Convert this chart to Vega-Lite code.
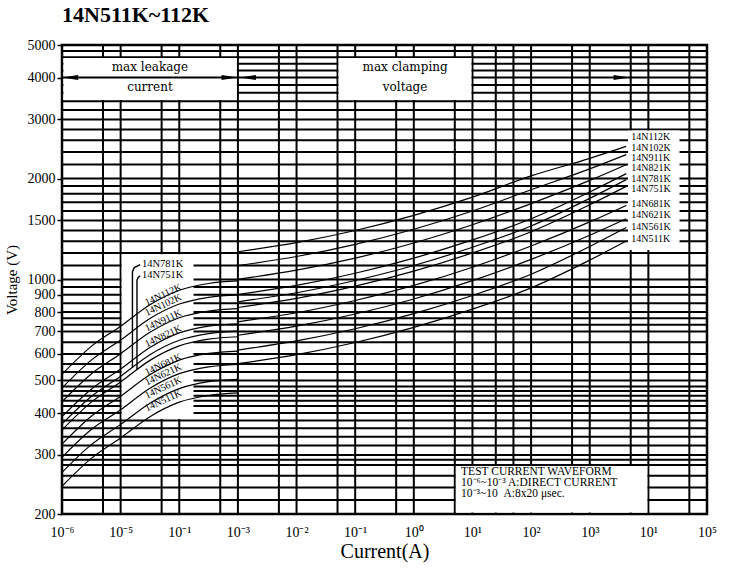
{
  "$schema": "https://vega.github.io/schema/vega-lite/v6.json",
  "description": "14N511K~112K varistor V-I characteristic curves",
  "autosize": {"type": "none"},
  "width": 645,
  "height": 469,
  "padding": {"left": 62, "top": 45, "right": 25, "bottom": 54},
  "background": "white",
  "title": {
    "text": "14N511K~112K",
    "anchor": "start",
    "frame": "group",
    "font": "Liberation Serif",
    "fontSize": 22,
    "fontWeight": "bold",
    "color": "black",
    "offset": 11
  },
  "datasets": {
    "curves": [
      {"id": "112K-L", "I": 1e-6, "V": 522}, {"id": "112K-L", "I": 3.16e-6, "V": 632}, {"id": "112K-L", "I": 1e-5, "V": 726}, {"id": "112K-L", "I": 3.16e-5, "V": 841}, {"id": "112K-L", "I": 1e-4, "V": 929}, {"id": "112K-L", "I": 3.16e-4, "V": 973}, {"id": "112K-L", "I": 1e-3, "V": 990},
      {"id": "102K-L", "I": 1e-6, "V": 475}, {"id": "102K-L", "I": 3.16e-6, "V": 575}, {"id": "102K-L", "I": 1e-5, "V": 660}, {"id": "102K-L", "I": 3.16e-5, "V": 765}, {"id": "102K-L", "I": 1e-4, "V": 845}, {"id": "102K-L", "I": 3.16e-4, "V": 885}, {"id": "102K-L", "I": 1e-3, "V": 900},
      {"id": "911K-L", "I": 1e-6, "V": 432}, {"id": "911K-L", "I": 3.16e-6, "V": 523}, {"id": "911K-L", "I": 1e-5, "V": 601}, {"id": "911K-L", "I": 3.16e-5, "V": 696}, {"id": "911K-L", "I": 1e-4, "V": 769}, {"id": "911K-L", "I": 3.16e-4, "V": 805}, {"id": "911K-L", "I": 1e-3, "V": 819},
      {"id": "821K-L", "I": 1e-6, "V": 390}, {"id": "821K-L", "I": 3.16e-6, "V": 471}, {"id": "821K-L", "I": 1e-5, "V": 541}, {"id": "821K-L", "I": 3.16e-5, "V": 627}, {"id": "821K-L", "I": 1e-4, "V": 693}, {"id": "821K-L", "I": 3.16e-4, "V": 726}, {"id": "821K-L", "I": 1e-3, "V": 738},
      {"id": "781K-L", "I": 1e-6, "V": 371}, {"id": "781K-L", "I": 3.16e-6, "V": 448}, {"id": "781K-L", "I": 1e-5, "V": 515}, {"id": "781K-L", "I": 3.16e-5, "V": 597}, {"id": "781K-L", "I": 1e-4, "V": 659}, {"id": "781K-L", "I": 3.16e-4, "V": 690}, {"id": "781K-L", "I": 1e-3, "V": 702},
      {"id": "751K-L", "I": 1e-6, "V": 356}, {"id": "751K-L", "I": 3.16e-6, "V": 431}, {"id": "751K-L", "I": 1e-5, "V": 495}, {"id": "751K-L", "I": 3.16e-5, "V": 574}, {"id": "751K-L", "I": 1e-4, "V": 634}, {"id": "751K-L", "I": 3.16e-4, "V": 664}, {"id": "751K-L", "I": 1e-3, "V": 675},
      {"id": "681K-L", "I": 1e-6, "V": 323}, {"id": "681K-L", "I": 3.16e-6, "V": 391}, {"id": "681K-L", "I": 1e-5, "V": 449}, {"id": "681K-L", "I": 3.16e-5, "V": 520}, {"id": "681K-L", "I": 1e-4, "V": 575}, {"id": "681K-L", "I": 3.16e-4, "V": 602}, {"id": "681K-L", "I": 1e-3, "V": 612},
      {"id": "621K-L", "I": 1e-6, "V": 295}, {"id": "621K-L", "I": 3.16e-6, "V": 357}, {"id": "621K-L", "I": 1e-5, "V": 409}, {"id": "621K-L", "I": 3.16e-5, "V": 474}, {"id": "621K-L", "I": 1e-4, "V": 524}, {"id": "621K-L", "I": 3.16e-4, "V": 549}, {"id": "621K-L", "I": 1e-3, "V": 558},
      {"id": "561K-L", "I": 1e-6, "V": 266}, {"id": "561K-L", "I": 3.16e-6, "V": 322}, {"id": "561K-L", "I": 1e-5, "V": 370}, {"id": "561K-L", "I": 3.16e-5, "V": 428}, {"id": "561K-L", "I": 1e-4, "V": 473}, {"id": "561K-L", "I": 3.16e-4, "V": 496}, {"id": "561K-L", "I": 1e-3, "V": 504},
      {"id": "511K-L", "I": 1e-6, "V": 242}, {"id": "511K-L", "I": 3.16e-6, "V": 293}, {"id": "511K-L", "I": 1e-5, "V": 337}, {"id": "511K-L", "I": 3.16e-5, "V": 390}, {"id": "511K-L", "I": 1e-4, "V": 431}, {"id": "511K-L", "I": 3.16e-4, "V": 451}, {"id": "511K-L", "I": 1e-3, "V": 459},
      {"id": "112K-C", "I": 1e-3, "V": 1210}, {"id": "112K-C", "I": 1e-2, "V": 1288}, {"id": "112K-C", "I": 0.1, "V": 1400}, {"id": "112K-C", "I": 1, "V": 1553}, {"id": "112K-C", "I": 10, "V": 1760}, {"id": "112K-C", "I": 100, "V": 2036}, {"id": "112K-C", "I": 1000, "V": 2297}, {"id": "112K-C", "I": 4200, "V": 2494},
      {"id": "102K-C", "I": 1e-3, "V": 1100}, {"id": "102K-C", "I": 1e-2, "V": 1171}, {"id": "102K-C", "I": 0.1, "V": 1273}, {"id": "102K-C", "I": 1, "V": 1412}, {"id": "102K-C", "I": 10, "V": 1600}, {"id": "102K-C", "I": 100, "V": 1851}, {"id": "102K-C", "I": 1000, "V": 2136}, {"id": "102K-C", "I": 4200, "V": 2356},
      {"id": "911K-C", "I": 1e-3, "V": 1001}, {"id": "911K-C", "I": 1e-2, "V": 1066}, {"id": "911K-C", "I": 0.1, "V": 1158}, {"id": "911K-C", "I": 1, "V": 1285}, {"id": "911K-C", "I": 10, "V": 1456}, {"id": "911K-C", "I": 100, "V": 1684}, {"id": "911K-C", "I": 1000, "V": 1974}, {"id": "911K-C", "I": 4200, "V": 2199},
      {"id": "821K-C", "I": 1e-3, "V": 902}, {"id": "821K-C", "I": 1e-2, "V": 960}, {"id": "821K-C", "I": 0.1, "V": 1044}, {"id": "821K-C", "I": 1, "V": 1158}, {"id": "821K-C", "I": 10, "V": 1312}, {"id": "821K-C", "I": 100, "V": 1518}, {"id": "821K-C", "I": 1000, "V": 1824}, {"id": "821K-C", "I": 4200, "V": 2068},
      {"id": "781K-C", "I": 1e-3, "V": 858}, {"id": "781K-C", "I": 1e-2, "V": 913}, {"id": "781K-C", "I": 0.1, "V": 993}, {"id": "781K-C", "I": 1, "V": 1101}, {"id": "781K-C", "I": 10, "V": 1248}, {"id": "781K-C", "I": 100, "V": 1444}, {"id": "781K-C", "I": 1000, "V": 1745}, {"id": "781K-C", "I": 4200, "V": 1985},
      {"id": "751K-C", "I": 1e-3, "V": 825}, {"id": "751K-C", "I": 1e-2, "V": 878}, {"id": "751K-C", "I": 0.1, "V": 955}, {"id": "751K-C", "I": 1, "V": 1059}, {"id": "751K-C", "I": 10, "V": 1200}, {"id": "751K-C", "I": 100, "V": 1388}, {"id": "751K-C", "I": 1000, "V": 1670}, {"id": "751K-C", "I": 4200, "V": 1895},
      {"id": "681K-C", "I": 1e-3, "V": 748}, {"id": "681K-C", "I": 1e-2, "V": 796}, {"id": "681K-C", "I": 0.1, "V": 866}, {"id": "681K-C", "I": 1, "V": 960}, {"id": "681K-C", "I": 10, "V": 1088}, {"id": "681K-C", "I": 100, "V": 1259}, {"id": "681K-C", "I": 1000, "V": 1485}, {"id": "681K-C", "I": 4200, "V": 1663},
      {"id": "621K-C", "I": 1e-3, "V": 682}, {"id": "621K-C", "I": 1e-2, "V": 726}, {"id": "621K-C", "I": 0.1, "V": 789}, {"id": "621K-C", "I": 1, "V": 875}, {"id": "621K-C", "I": 10, "V": 992}, {"id": "621K-C", "I": 100, "V": 1148}, {"id": "621K-C", "I": 1000, "V": 1355}, {"id": "621K-C", "I": 4200, "V": 1518},
      {"id": "561K-C", "I": 1e-3, "V": 616}, {"id": "561K-C", "I": 1e-2, "V": 656}, {"id": "561K-C", "I": 0.1, "V": 713}, {"id": "561K-C", "I": 1, "V": 791}, {"id": "561K-C", "I": 10, "V": 896}, {"id": "561K-C", "I": 100, "V": 1037}, {"id": "561K-C", "I": 1000, "V": 1254}, {"id": "561K-C", "I": 4200, "V": 1428},
      {"id": "511K-C", "I": 1e-3, "V": 561}, {"id": "511K-C", "I": 1e-2, "V": 597}, {"id": "511K-C", "I": 0.1, "V": 649}, {"id": "511K-C", "I": 1, "V": 720}, {"id": "511K-C", "I": 10, "V": 816}, {"id": "511K-C", "I": 100, "V": 944}, {"id": "511K-C", "I": 1000, "V": 1142}, {"id": "511K-C", "I": 4200, "V": 1302}
    ],
    "leaders": [
      {"id": "781K", "I": 2.16e-5, "V": 1108}, {"id": "781K", "I": 1.71e-5, "V": 1085}, {"id": "781K", "I": 1.59e-5, "V": 1055}, {"id": "781K", "I": 1.59e-5, "V": 548},
      {"id": "751K", "I": 2.16e-5, "V": 1026}, {"id": "751K", "I": 1.99e-5, "V": 1014}, {"id": "751K", "I": 1.9e-5, "V": 995}, {"id": "751K", "I": 1.9e-5, "V": 540}
    ],
    "vgrid": [
      {"I": 5e-6}, {"I": 1e-5}, {"I": 5e-5}, {"I": 1e-4}, {"I": 5e-4}, {"I": 1e-3}, {"I": 5e-3}, {"I": 1e-2},
      {"I": 5e-2}, {"I": 0.1}, {"I": 0.5}, {"I": 1}, {"I": 5}, {"I": 10}, {"I": 25}, {"I": 50}, {"I": 100},
      {"I": 500}, {"I": 1000}, {"I": 5000}, {"I": 10000}, {"I": 50000}
    ],
    "hgrid": [
      {"V": 4800}, {"V": 4600}, {"V": 4400}, {"V": 4200}, {"V": 4000}, {"V": 3800}, {"V": 3600}, {"V": 3400},
      {"V": 3200}, {"V": 3000}, {"V": 2800}, {"V": 2600}, {"V": 2400}, {"V": 2200}, {"V": 2000}, {"V": 1900},
      {"V": 1800}, {"V": 1700}, {"V": 1600}, {"V": 1500}, {"V": 1400}, {"V": 1300}, {"V": 1200}, {"V": 1100},
      {"V": 1000}, {"V": 950}, {"V": 900}, {"V": 850}, {"V": 800}, {"V": 767}, {"V": 733}, {"V": 700},
      {"V": 650}, {"V": 600}, {"V": 560}, {"V": 530}, {"V": 500}, {"V": 480}, {"V": 465}, {"V": 450},
      {"V": 435}, {"V": 420}, {"V": 400}, {"V": 380}, {"V": 360}, {"V": 340}, {"V": 320}, {"V": 300},
      {"V": 290}, {"V": 280}, {"V": 260}, {"V": 240}, {"V": 220}
    ],
    "masks": [
      {"I": 1.06e-6, "I2": 9.6e-4, "V": 3425, "V2": 4570},
      {"I": 5.2e-2, "I2": 9.6, "V": 3425, "V2": 4570},
      {"I": 4500, "I2": 34000, "V": 1225, "V2": 2780},
      {"I": 1.04e-5, "I2": 1.75e-4, "V": 384, "V2": 1190},
      {"I": 5.2, "I2": 9600, "V": 202, "V2": 278}
    ],
    "shaft": [{"I": 1e-6, "I2": 1e-3, "V": 4000}],
    "arrows": [
      {"I": 1.38e-6, "V": 4000, "dir": "left"},
      {"I": 7.2e-4, "V": 4000, "dir": "right"},
      {"I": 1.48e-3, "V": 4000, "dir": "left"},
      {"I": 3500, "V": 4000, "dir": "right"}
    ],
    "endLabels": [
      {"I": 5100, "V": 2660, "text": "14N112K"},
      {"I": 5100, "V": 2470, "text": "14N102K"},
      {"I": 5100, "V": 2300, "text": "14N911K"},
      {"I": 5100, "V": 2145, "text": "14N821K"},
      {"I": 5100, "V": 2000, "text": "14N781K"},
      {"I": 5100, "V": 1855, "text": "14N751K"},
      {"I": 5100, "V": 1683, "text": "14N681K"},
      {"I": 5100, "V": 1560, "text": "14N621K"},
      {"I": 5100, "V": 1433, "text": "14N561K"},
      {"I": 5100, "V": 1324, "text": "14N511K"}
    ],
    "slantLabels": [
      {"I": 5.33e-5, "V": 900, "text": "14N112K"},
      {"I": 5.33e-5, "V": 840, "text": "14N102K"},
      {"I": 5.33e-5, "V": 755, "text": "14N911K"},
      {"I": 5.33e-5, "V": 678, "text": "14N821K"},
      {"I": 5.33e-5, "V": 558, "text": "14N681K"},
      {"I": 5.33e-5, "V": 521, "text": "14N621K"},
      {"I": 5.33e-5, "V": 476, "text": "14N561K"},
      {"I": 5.33e-5, "V": 436, "text": "14N511K"}
    ],
    "flatLabels": [
      {"I": 2.31e-5, "V": 1115, "text": "14N781K"},
      {"I": 2.31e-5, "V": 1030, "text": "14N751K"}
    ],
    "boxText": [
      {"I": 3.16e-5, "V": 4290, "text": "max leakage"},
      {"I": 3.16e-5, "V": 3760, "text": "current"},
      {"I": 0.71, "V": 4290, "text": "max clamping"},
      {"I": 0.71, "V": 3760, "text": "voltage"}
    ],
    "testText": [
      {"I": 6.4, "V": 267, "text": "TEST CURRENT WAVEFORM"},
      {"I": 6.4, "V": 247, "text": "10⁻⁶~10⁻³ A:DIRECT CURRENT"},
      {"I": 6.4, "V": 229, "text": "10⁻³~10\u00a0\u00a0A:8x20 μsec."}
    ]
  },
  "layer": [
    {
      "data": {"name": "vgrid"},
      "mark": {"type": "rule", "color": "black", "strokeWidth": 2},
      "encoding": {
        "x": {
          "field": "I",
          "type": "quantitative",
          "scale": {"type": "log", "domain": [1e-6, 100000], "nice": false},
          "axis": {
            "title": "Current(A)",
            "values": [1e-6, 1e-5, 1e-4, 1e-3, 1e-2, 0.1, 1, 10, 100, 1000, 10000, 100000],
            "labelExpr": "datum.value < 3e-6 ? '10⁻⁶' : datum.value < 3e-5 ? '10⁻⁵' : datum.value < 3e-4 ? '10⁻¹' : datum.value < 3e-3 ? '10⁻³' : datum.value < 3e-2 ? '10⁻²' : datum.value < 0.3 ? '10⁻¹' : datum.value < 3 ? '10⁰' : datum.value < 30 ? '10¹' : datum.value < 300 ? '10²' : datum.value < 3000 ? '10³' : datum.value < 30000 ? '10¹' : '10⁵'",
            "ticks": false,
            "labelFontSize": 14,
            "labelPadding": 11,
            "labelFlush": false,
            "labelOverlap": false,
            "titleFontSize": 20,
            "titlePadding": 2
          }
        }
      }
    },
    {
      "data": {"name": "hgrid"},
      "mark": {"type": "rule", "color": "black", "strokeWidth": 2},
      "encoding": {
        "y": {
          "field": "V",
          "type": "quantitative",
          "scale": {"type": "log", "domain": [200, 5000], "nice": false},
          "axis": {
            "title": "Voltage (V)",
            "values": [200, 300, 400, 500, 600, 700, 800, 900, 1000, 1500, 2000, 3000, 4000, 5000],
            "format": "d",
            "tickSize": 5,
            "tickColor": "black",
            "tickWidth": 1.5,
            "labelFontSize": 14,
            "labelPadding": 2,
            "labelOverlap": false,
            "titleFontSize": 15,
            "titlePadding": 8
          }
        }
      }
    },
    {
      "data": {"name": "masks"},
      "mark": {"type": "rect", "color": "white"},
      "encoding": {
        "x": {"field": "I", "type": "quantitative"},
        "x2": {"field": "I2"},
        "y": {"field": "V", "type": "quantitative"},
        "y2": {"field": "V2"}
      }
    },
    {
      "data": {"name": "shaft"},
      "mark": {"type": "rule", "color": "black", "strokeWidth": 2},
      "encoding": {
        "x": {"field": "I", "type": "quantitative"},
        "x2": {"field": "I2"},
        "y": {"field": "V", "type": "quantitative"}
      }
    },
    {
      "data": {"name": "curves"},
      "mark": {"type": "line", "color": "black", "strokeWidth": 1.2, "interpolate": "monotone"},
      "encoding": {
        "x": {"field": "I", "type": "quantitative"},
        "y": {"field": "V", "type": "quantitative"},
        "detail": {"field": "id"}
      }
    },
    {
      "data": {"name": "leaders"},
      "mark": {"type": "line", "color": "black", "strokeWidth": 1.4},
      "encoding": {
        "x": {"field": "I", "type": "quantitative"},
        "y": {"field": "V", "type": "quantitative"},
        "detail": {"field": "id"},
        "order": {"value": null}
      }
    },
    {
      "data": {"name": "arrows"},
      "mark": {"type": "point", "filled": true, "color": "black", "opacity": 1, "size": 256},
      "encoding": {
        "x": {"field": "I", "type": "quantitative"},
        "y": {"field": "V", "type": "quantitative"},
        "shape": {
          "field": "dir",
          "type": "nominal",
          "scale": {"domain": ["left", "right"], "range": ["M1,-0.32L-1,0L1,0.32Z", "M-1,-0.32L1,0L-1,0.32Z"]},
          "legend": null
        }
      }
    },
    {
      "data": {"name": "endLabels"},
      "mark": {"type": "text", "align": "left", "baseline": "middle", "font": "Liberation Serif", "fontSize": 10, "color": "black"},
      "encoding": {
        "x": {"field": "I", "type": "quantitative"},
        "y": {"field": "V", "type": "quantitative"},
        "text": {"field": "text"}
      }
    },
    {
      "data": {"name": "slantLabels"},
      "mark": {"type": "text", "align": "center", "baseline": "middle", "font": "Liberation Serif", "fontSize": 10, "angle": -25, "color": "black"},
      "encoding": {
        "x": {"field": "I", "type": "quantitative"},
        "y": {"field": "V", "type": "quantitative"},
        "text": {"field": "text"}
      }
    },
    {
      "data": {"name": "flatLabels"},
      "mark": {"type": "text", "align": "left", "baseline": "middle", "font": "Liberation Serif", "fontSize": 10.5, "color": "black"},
      "encoding": {
        "x": {"field": "I", "type": "quantitative"},
        "y": {"field": "V", "type": "quantitative"},
        "text": {"field": "text"}
      }
    },
    {
      "data": {"name": "boxText"},
      "mark": {"type": "text", "align": "center", "baseline": "middle", "font": "DejaVu Serif", "fontSize": 12, "color": "black"},
      "encoding": {
        "x": {"field": "I", "type": "quantitative"},
        "y": {"field": "V", "type": "quantitative"},
        "text": {"field": "text"}
      }
    },
    {
      "data": {"name": "testText"},
      "mark": {"type": "text", "align": "left", "baseline": "middle", "font": "Liberation Serif", "fontSize": 11.5, "color": "black"},
      "encoding": {
        "x": {"field": "I", "type": "quantitative"},
        "y": {"field": "V", "type": "quantitative"},
        "text": {"field": "text"}
      }
    }
  ],
  "config": {
    "view": {"stroke": "black", "strokeWidth": 2.5},
    "axis": {
      "grid": false,
      "domain": false,
      "labelColor": "black",
      "titleColor": "black",
      "labelFont": "Liberation Serif",
      "titleFont": "Liberation Serif",
      "titleFontWeight": "normal"
    }
  }
}
